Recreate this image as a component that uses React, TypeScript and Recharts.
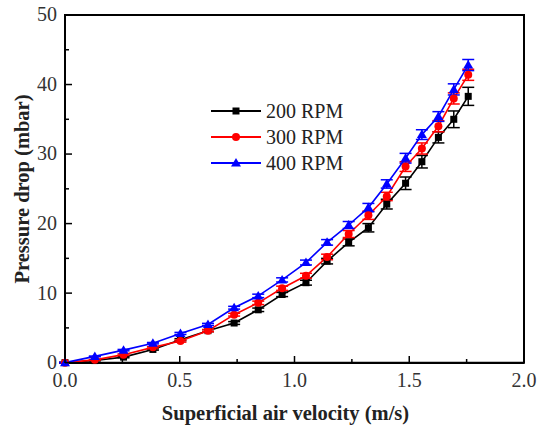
import React from "react";
import {
  LineChart,
  Line,
  XAxis,
  YAxis,
  ErrorBar,
  ReferenceArea,
  Legend,
  Label,
} from "recharts";

const velocity = [0, 0.13, 0.255, 0.383, 0.503, 0.623, 0.737, 0.842, 0.946, 1.05, 1.142, 1.236, 1.322, 1.402, 1.484, 1.555, 1.627, 1.694, 1.757];
const p200 = [0, 0.3, 0.8, 1.9, 3.3, 4.6, 5.7, 7.6, 9.8, 11.5, 14.6, 17.3, 19.4, 22.8, 25.8, 28.9, 32.4, 35.0, 38.3];
const p300 = [0, 0.4, 1.15, 2.2, 3.1, 4.6, 6.9, 8.6, 10.7, 12.5, 15.2, 18.5, 21.2, 23.9, 28.2, 30.8, 34.0, 38.0, 41.4];
const p400 = [0, 0.9, 1.8, 2.8, 4.2, 5.5, 7.9, 9.6, 11.9, 14.4, 17.3, 19.8, 22.3, 25.7, 29.4, 32.8, 35.4, 39.3, 42.8];
const e200 = [0.05, 0.05, 0.1, 0.1, 0.15, 0.15, 0.2, 0.25, 0.3, 0.35, 0.4, 0.5, 0.6, 0.7, 0.9, 0.9, 0.8, 1.2, 1.3];
const e300 = [0.05, 0.05, 0.1, 0.1, 0.15, 0.15, 0.2, 0.25, 0.3, 0.35, 0.4, 0.5, 0.6, 0.6, 0.7, 0.8, 0.8, 0.8, 0.8];
const e400 = [0.05, 0.05, 0.1, 0.1, 0.15, 0.15, 0.2, 0.25, 0.3, 0.35, 0.4, 0.5, 0.6, 0.6, 0.7, 0.7, 0.7, 0.8, 0.8];

const seriesNames = ["200 RPM", "300 RPM", "400 RPM"];
const seriesColors = ["#000000", "#ff0000", "#0000ff"];
const xTicks = [0, 0.25, 0.5, 0.75, 1, 1.25, 1.5, 1.75, 2];
const yTicks = [0, 5, 10, 15, 20, 25, 30, 35, 40, 45, 50];

const data = velocity.map((v, i) => ({
  v,
  a: p200[i],
  b: p300[i],
  c: p400[i],
  ea: e200[i],
  eb: e300[i],
  ec: e400[i],
}));

const FONT = "'Liberation Serif', 'Times New Roman', serif";

const Square = (props: any) => {
  const { cx, cy, fill } = props;
  if (cx == null || cy == null) return null;
  return <rect x={cx - 3.5} y={cy - 3.5} width={7} height={7} fill={fill} />;
};
const Circle = (props: any) => {
  const { cx, cy, fill } = props;
  if (cx == null || cy == null) return null;
  return <circle cx={cx} cy={cy} r={4} fill={fill} />;
};
const Triangle = (props: any) => {
  const { cx, cy, fill } = props;
  if (cx == null || cy == null) return null;
  return <path d={`M${cx},${cy - 5} L${cx + 5},${cy + 3.5} L${cx - 5},${cy + 3.5} Z`} fill={fill} />;
};

const XTick = (props: any) => {
  const { x, y, payload } = props;
  const major = Math.abs((payload.value * 2) - Math.round(payload.value * 2)) < 1e-6;
  return (
    <g>
      <line x1={x} x2={x} y1={y} y2={y - (major ? 7 : 4)} stroke="#000" strokeWidth={1.5} />
      {major && (
        <text x={x} y={y + 24} textAnchor="middle" fontFamily={FONT} fontSize={20} fill="#333">
          {payload.value.toFixed(1)}
        </text>
      )}
    </g>
  );
};

const YTick = (props: any) => {
  const { x, y, payload } = props;
  const major = payload.value % 10 === 0;
  return (
    <g>
      <line x1={x} x2={x + (major ? 7 : 4)} y1={y} y2={y} stroke="#000" strokeWidth={1.5} />
      {major && (
        <text x={x - 8} y={y} dy="0.32em" textAnchor="end" fontFamily={FONT} fontSize={20} fill="#333">
          {payload.value}
        </text>
      )}
    </g>
  );
};

const LegendContent = () => {
  const markers = [Square, Circle, Triangle];
  return (
    <svg width={160} height={70} style={{ overflow: "visible", display: "block" }}>
      {seriesNames.map((name, i) => {
        const M = markers[i];
        const cy = 10 + i * 26;
        return (
          <g key={name}>
            <line x1={2} x2={52} y1={cy} y2={cy} stroke={seriesColors[i]} strokeWidth={2} />
            <M cx={27} cy={cy} fill={seriesColors[i]} />
            <text x={57} y={cy} dy="0.35em" fontFamily={FONT} fontSize={20} fill="#222">
              {name}
            </text>
          </g>
        );
      })}
    </svg>
  );
};

export default function App() {
  return (
    <div style={{ position: "absolute", left: 0, top: 0, background: "#fff" }}>
      <LineChart width={537} height={432} data={data} margin={{ top: 15, right: 13, left: 0, bottom: 0 }}>
        <XAxis
          dataKey="v"
          type="number"
          domain={[0, 2]}
          ticks={xTicks}
          interval={0}
          tickSize={0}
          tickMargin={0}
          tick={<XTick />}
          height={69}
          stroke="#000"
          strokeWidth={2}
        >
          <Label
            content={(p: any) => {
              const vb = p.viewBox;
              return (
                <text x={vb.x + vb.width / 2 - 9} y={vb.y + 57} textAnchor="middle" fontFamily={FONT} fontSize={20.5} fontWeight="bold" fill="#222">
                  Superficial air velocity (m/s)
                </text>
              );
            }}
          />
        </XAxis>
        <YAxis
          type="number"
          domain={[0, 50]}
          ticks={yTicks}
          interval={0}
          tickSize={0}
          tickMargin={0}
          tick={<YTick />}
          width={65}
          stroke="#000"
          strokeWidth={2}
        >
          <Label
            content={(p: any) => {
              const vb = p.viewBox;
              const cx = vb.x + 22;
              const cy = vb.y + vb.height / 2;
              return (
                <text x={cx} y={cy} transform={`rotate(-90, ${cx}, ${cy})`} textAnchor="middle" dominantBaseline="central" fontFamily={FONT} fontSize={20.5} fontWeight="bold" fill="#222">
                  Pressure drop (mbar)
                </text>
              );
            }}
          />
        </YAxis>
        <ReferenceArea x1={0} x2={2} y1={0} y2={50} stroke="#000" strokeWidth={2} fill="none" fillOpacity={0} />
        <Legend
          layout="vertical"
          verticalAlign="middle"
          align="center"
          wrapperStyle={{ left: 209, top: 101, width: 160, height: 70 }}
          content={<LegendContent />}
        />
        <Line dataKey="a" name={seriesNames[0]} stroke={seriesColors[0]} strokeWidth={1.6} dot={<Square />} fill={seriesColors[0]} isAnimationActive={false}>
          <ErrorBar dataKey="ea" width={6} stroke={seriesColors[0]} strokeWidth={1.5} />
        </Line>
        <Line dataKey="b" name={seriesNames[1]} stroke={seriesColors[1]} strokeWidth={1.6} dot={<Circle />} fill={seriesColors[1]} isAnimationActive={false}>
          <ErrorBar dataKey="eb" width={6} stroke={seriesColors[1]} strokeWidth={1.5} />
        </Line>
        <Line dataKey="c" name={seriesNames[2]} stroke={seriesColors[2]} strokeWidth={1.6} dot={<Triangle />} fill={seriesColors[2]} isAnimationActive={false}>
          <ErrorBar dataKey="ec" width={6} stroke={seriesColors[2]} strokeWidth={1.5} />
        </Line>
      </LineChart>
    </div>
  );
}
